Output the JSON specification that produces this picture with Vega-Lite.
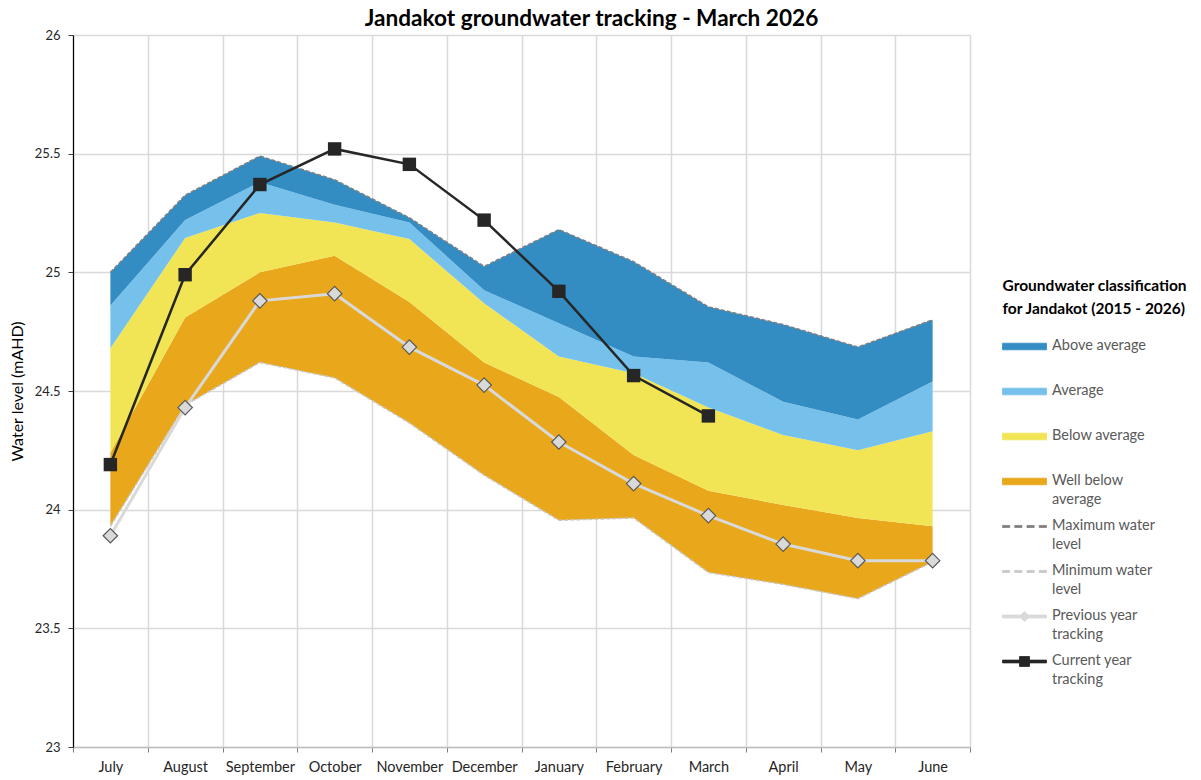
{
  "$schema": "https://vega.github.io/schema/vega-lite/v6.json",
  "width": 897,
  "height": 712,
  "autosize": {"type": "none"},
  "padding": {"left": 73, "top": 35, "right": 231, "bottom": 33},
  "background": "white",
  "config": {"font": "Lato", "view": {"stroke": null}, "style": {"guide-label": {"lineHeight": 19}}},
  "title": {"text": "Jandakot groundwater tracking - March 2026", "fontSize": 22.6, "fontWeight": "bold", "color": "#000000", "anchor": "middle", "frame": "group", "dx": 70, "offset": -2},
  "data": {"values": [
    {"month": "July", "min": 23.93, "b1": 24.24, "b2": 24.68, "b3": 24.86, "max": 25.00, "prev": 23.89, "curr": 24.19},
    {"month": "August", "min": 24.44, "b1": 24.81, "b2": 25.145, "b3": 25.22, "max": 25.325, "prev": 24.43, "curr": 24.99},
    {"month": "September", "min": 24.62, "b1": 25.0, "b2": 25.25, "b3": 25.38, "max": 25.49, "prev": 24.88, "curr": 25.37},
    {"month": "October", "min": 24.555, "b1": 25.07, "b2": 25.21, "b3": 25.285, "max": 25.39, "prev": 24.91, "curr": 25.52},
    {"month": "November", "min": 24.365, "b1": 24.875, "b2": 25.14, "b3": 25.21, "max": 25.23, "prev": 24.685, "curr": 25.455},
    {"month": "December", "min": 24.145, "b1": 24.62, "b2": 24.87, "b3": 24.925, "max": 25.025, "prev": 24.525, "curr": 25.22},
    {"month": "January", "min": 23.955, "b1": 24.475, "b2": 24.645, "b3": 24.785, "max": 25.18, "prev": 24.285, "curr": 24.92},
    {"month": "February", "min": 23.965, "b1": 24.23, "b2": 24.575, "b3": 24.645, "max": 25.045, "prev": 24.11, "curr": 24.565},
    {"month": "March", "min": 23.735, "b1": 24.08, "b2": 24.43, "b3": 24.62, "max": 24.855, "prev": 23.975, "curr": 24.395},
    {"month": "April", "min": 23.685, "b1": 24.02, "b2": 24.315, "b3": 24.455, "max": 24.78, "prev": 23.855, "curr": null},
    {"month": "May", "min": 23.625, "b1": 23.965, "b2": 24.25, "b3": 24.38, "max": 24.685, "prev": 23.785, "curr": null},
    {"month": "June", "min": 23.78, "b1": 23.93, "b2": 24.33, "b3": 24.54, "max": 24.80, "prev": 23.785, "curr": null}
  ]},
  "encoding": {
    "x": {
      "field": "month", "type": "ordinal", "sort": null, "bandPosition": 0.5,
      "scale": {"type": "band", "paddingInner": 0, "paddingOuter": 0,
        "domain": ["July", "August", "September", "October", "November", "December", "January", "February", "March", "April", "May", "June"]},
      "axis": {"title": null, "labelAngle": 0, "tickBand": "extent", "grid": true, "gridColor": "#d9d9d9", "gridWidth": 1.5,
        "domainColor": "#bfbfbf", "domainWidth": 1.5, "tickColor": "#7f7f7f", "tickSize": 5, "labelFontSize": 14.5, "labelColor": "#262626", "labelPadding": 8}
    }
  },
  "layer": [
    {"mark": {"type": "area", "opacity": 1},
     "encoding": {
       "y": {"field": "min", "type": "quantitative", "title": "Water level (mAHD)",
         "scale": {"domain": [23, 26], "nice": false, "zero": false},
         "axis": {"values": [23, 23.5, 24, 24.5, 25, 25.5, 26], "format": ".1~f", "grid": true, "gridColor": "#d9d9d9", "gridWidth": 1.5, "domainColor": "#000000", "domainWidth": 1.2, "tickColor": "#404040", "tickSize": 5, "labelFontSize": 13, "labelColor": "#262626", "labelPadding": 8, "titleFontSize": 16, "titleFontWeight": "normal", "titleColor": "#000000", "titlePadding": 9}},
       "y2": {"field": "b1"},
       "color": {"datum": "Well below average", "type": "nominal",
         "scale": {"domain": ["Above average", "Average", "Below average", "Well below average", "Maximum water level", "Minimum water level", "Previous year tracking", "Current year tracking"],
                   "range": ["#338dc3", "#75c1eb", "#f1e555", "#e9a71b", "#7f7f7f", "#c8c8c8", "#d9d9d9", "#262626"]},
         "legend": {
           "orient": "none", "legendX": 929.5, "legendY": 244,
           "title": ["Groundwater classification", "for Jandakot (2015 - 2026)"],
           "titleFontSize": 15.5, "titleFontWeight": "bold", "titleColor": "#000000", "titleLineHeight": 23, "titlePadding": 9, "titleLimit": 300,
           "labelFontSize": 14.5, "labelColor": "#595959", "labelLimit": 200, "labelOffset": 15, "labelBaseline": "top",
           "symbolSize": 576, "symbolStrokeWidth": 0.8, "symbolOffset": 9.5,
           "symbolStrokeColor": {"expr": "datum.value == 'Previous year tracking' ? '#7f7f7f' : 'transparent'"},
           "gridAlign": "all", "rowPadding": 0,
           "symbolType": {"expr": "(datum.value == 'Maximum water level' || datum.value == 'Minimum water level') ? 'M-1.833,0.54H-1.233V0.71H-1.833Z M-0.813,0.54H-0.213V0.71H-0.813Z M0.207,0.54H0.807V0.71H0.207Z M1.227,0.54H1.833V0.71H1.227Z' : datum.value == 'Previous year tracking' ? 'M-1.833,0.5H-0.295L0,0.205L0.295,0.5H1.833V0.75H0.295L0,1.045L-0.295,0.75H-1.833Z' : datum.value == 'Current year tracking' ? 'M-1.833,0.508H-0.417V0.208H0.417V0.508H1.833V0.742H0.417V1.042H-0.417V0.742H-1.833Z' : 'M-1.833,0.35H1.833V0.9H-1.833Z'"},
           "labelExpr": "datum.label == 'Well below average' ? ['Well below', 'average'] : datum.label == 'Maximum water level' ? ['Maximum water', 'level'] : datum.label == 'Minimum water level' ? ['Minimum water', 'level'] : datum.label == 'Previous year tracking' ? ['Previous year', 'tracking'] : datum.label == 'Current year tracking' ? ['Current year', 'tracking'] : datum.label"
         }}
     }},
    {"mark": {"type": "area", "opacity": 1},
     "encoding": {"y": {"field": "b1", "type": "quantitative", "title": "Water level (mAHD)"}, "y2": {"field": "b2"}, "color": {"datum": "Below average", "type": "nominal"}}},
    {"mark": {"type": "area", "opacity": 1},
     "encoding": {"y": {"field": "b2", "type": "quantitative", "title": "Water level (mAHD)"}, "y2": {"field": "b3"}, "color": {"datum": "Average", "type": "nominal"}}},
    {"mark": {"type": "area", "opacity": 1},
     "encoding": {"y": {"field": "b3", "type": "quantitative", "title": "Water level (mAHD)"}, "y2": {"field": "max"}, "color": {"datum": "Above average", "type": "nominal"}}},
    {"mark": {"type": "line", "strokeWidth": 1.5, "strokeDash": [4, 2]},
     "encoding": {"y": {"field": "max", "type": "quantitative", "title": "Water level (mAHD)"}, "color": {"datum": "Maximum water level", "type": "nominal"}}},
    {"mark": {"type": "line", "strokeWidth": 1.5, "strokeDash": [4, 2]},
     "encoding": {"y": {"field": "min", "type": "quantitative", "title": "Water level (mAHD)"}, "color": {"datum": "Minimum water level", "type": "nominal"}}},
    {"mark": {"type": "line", "strokeWidth": 3},
     "encoding": {"y": {"field": "prev", "type": "quantitative", "title": "Water level (mAHD)"}, "color": {"datum": "Previous year tracking", "type": "nominal"}}},
    {"mark": {"type": "point", "shape": "diamond", "filled": true, "fill": "#d9d9d9", "stroke": "#595959", "strokeWidth": 1.2, "size": 210, "opacity": 1},
     "encoding": {"y": {"field": "prev", "type": "quantitative", "title": "Water level (mAHD)"}}},
    {"transform": [{"filter": "isValid(datum.curr)"}],
     "mark": {"type": "line", "strokeWidth": 2.5},
     "encoding": {"y": {"field": "curr", "type": "quantitative", "title": "Water level (mAHD)"}, "color": {"datum": "Current year tracking", "type": "nominal"}}},
    {"transform": [{"filter": "isValid(datum.curr)"}],
     "mark": {"type": "square", "filled": true, "fill": "#262626", "stroke": null, "size": 180, "opacity": 1},
     "encoding": {"y": {"field": "curr", "type": "quantitative", "title": "Water level (mAHD)"}}}
  ]
}
